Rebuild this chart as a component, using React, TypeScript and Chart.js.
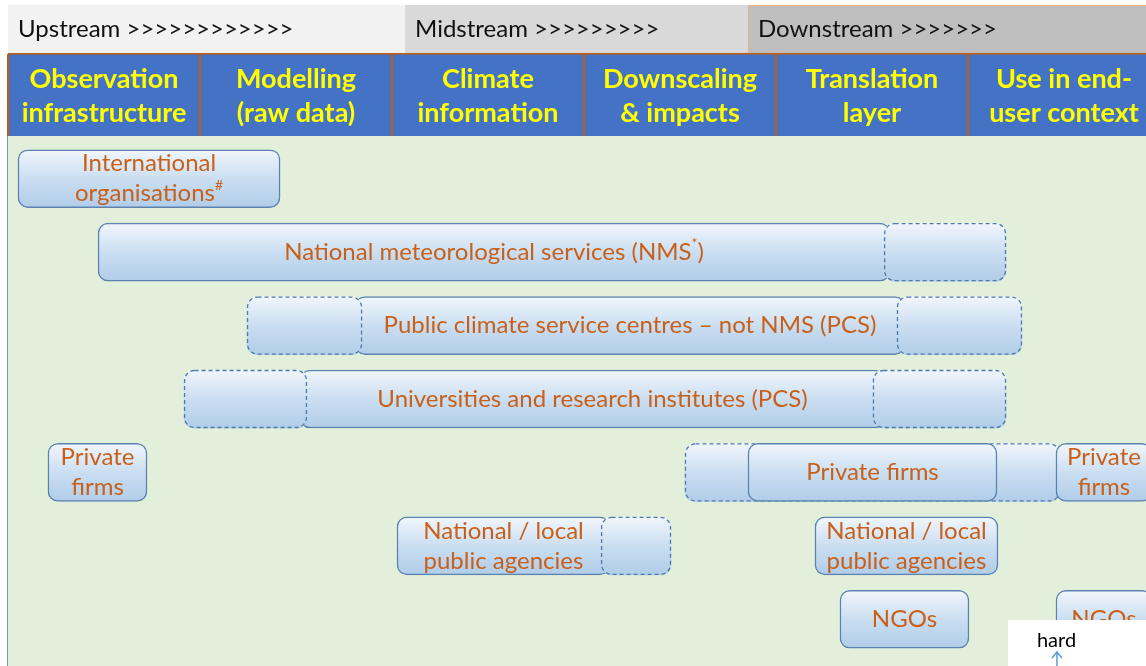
import React, { useEffect, useRef } from "react";
import { Chart, registerables } from "chart.js";

Chart.register(...registerables);

// ---------- DATA ----------
const rows = [
  "International organisations",
  "National meteorological services",
  "Public climate service centres",
  "Universities and research institutes",
  "Private firms",
  "National / local public agencies",
  "NGOs",
];

const stageLabels = [
  "Observation\ninfrastructure",
  "Modelling\n(raw data)",
  "Climate\ninformation",
  "Downscaling\n& impacts",
  "Translation\nlayer",
  "Use in end-\nuser context",
];

const streamLabels = ["Upstream >>>>>>>>>>>>", "Midstream >>>>>>>>>", "Downstream >>>>>>>"];
const streamStarts = [0, 2.068, 3.854];

type Range = [number, number] | null;

// value-chain position (1 unit = one stage column)
const mainBars: Range[] = [
  [0.052, 1.417],
  [0.469, 4.594],
  [1.807, 4.672],
  [1.521, 4.568],
  [3.854, 5.151],
  [2.026, 3.135],
  [4.333, 5.005],
];
const mainLabels = [
  "International\norganisations^#",
  "National meteorological services (NMS^*)",
  "Public climate service centres – not NMS (PCS)",
  "Universities and research institutes (PCS)",
  "Private firms",
  "National / local\npublic agencies",
  "NGOs",
];

const secondBars: Range[] = [null, null, null, null, [0.208, 0.724], [4.203, 5.156], [5.458, 5.958]];
const secondLabels = ["", "", "", "", "Private\nfirms", "National / local\npublic agencies", "NGOs"];

const thirdBars: Range[] = [null, null, null, null, [5.458, 5.958], null, null];
const thirdLabels = ["", "", "", "", "Private\nfirms", "", ""];

const extRightBars: Range[] = [null, [4.563, 5.198], [4.63, 5.281], [4.505, 5.198], null, [3.089, 3.453], null];
const extLeftBars: Range[] = [null, null, [1.245, 1.844], [0.917, 1.557], null, null, null];
const extBackBars: Range[] = [null, null, null, null, [3.526, 5.479], null, null];

const X_MAX = 5.927;
const BAR = 58;

// ---------- helpers ----------
const barFill = (c: any) => {
  const chart = c.chart;
  const yScale = chart.scales && chart.scales.y;
  if (!yScale || c.dataIndex == null) return "#c9ddf1";
  const yc = yScale.getPixelForValue(c.dataIndex);
  if (!Number.isFinite(yc)) return "#c9ddf1";
  const g = chart.ctx.createLinearGradient(0, yc - BAR / 2, 0, yc + BAR / 2);
  g.addColorStop(0, "#f1f6fc");
  g.addColorStop(0.55, "#c7dcf0");
  g.addColorStop(1, "#b1cde9");
  return g;
};

function drawRich(ctx: CanvasRenderingContext2D, text: string, cx: number, cy: number, size: number) {
  const parts: { t: string; sup: boolean }[] = [];
  let buf = "";
  for (let i = 0; i < text.length; i++) {
    if (text[i] === "^" && i + 1 < text.length) {
      if (buf) parts.push({ t: buf, sup: false });
      buf = "";
      parts.push({ t: text[i + 1], sup: true });
      i++;
    } else buf += text[i];
  }
  if (buf) parts.push({ t: buf, sup: false });
  const font = `${size}px Lato`;
  const supFont = `${Math.round(size * 0.6)}px Lato`;
  let total = 0;
  parts.forEach((p) => {
    ctx.font = p.sup ? supFont : font;
    total += ctx.measureText(p.t).width;
  });
  let x = cx - total / 2;
  ctx.textAlign = "left";
  ctx.textBaseline = "middle";
  parts.forEach((p) => {
    ctx.font = p.sup ? supFont : font;
    ctx.fillText(p.t, x, p.sup ? cy - size * 0.36 : cy);
    x += ctx.measureText(p.t).width;
  });
}

const diagramPlugin = {
  id: "diagram",
  beforeDraw(chart: any) {
    const { ctx, width, height } = chart;
    const xs = chart.scales.x;
    const px = (v: number) => xs.getPixelForValue(v);
    ctx.save();
    ctx.fillStyle = "#ffffff";
    ctx.fillRect(0, 0, width, height);

    // stream row
    const streamColors = ["#f2f2f2", "#d9d9d9", "#bfbfbf"];
    streamLabels.forEach((lab, i) => {
      const x0 = px(streamStarts[i]);
      const x1 = i < streamLabels.length - 1 ? px(streamStarts[i + 1]) : width;
      ctx.fillStyle = streamColors[i];
      ctx.fillRect(x0, 5, x1 - x0, 49);
      ctx.fillStyle = "#111111";
      ctx.font = "24px Lato";
      ctx.textAlign = "left";
      ctx.textBaseline = "middle";
      ctx.fillText(lab, x0 + 10, 29);
      if (i === 2) {
        ctx.strokeStyle = "#f4b183";
        ctx.lineWidth = 1;
        ctx.beginPath();
        ctx.moveTo(x0 + 0.5, 54);
        ctx.lineTo(x0 + 0.5, 5.5);
        ctx.lineTo(width, 5.5);
        ctx.stroke();
      }
    });

    // column headers
    const left = px(0);
    ctx.fillStyle = "#4472c4";
    ctx.fillRect(left, 54, width - left, 82);
    ctx.fillStyle = "#c55a11";
    ctx.fillRect(left, 53, width - left, 1.5);
    for (let i = 0; i <= stageLabels.length; i++) {
      ctx.fillRect(px(i) - 1, 54, 2, 82);
    }
    ctx.fillStyle = "#ffff00";
    ctx.font = "bold 27px Lato";
    ctx.textAlign = "center";
    ctx.textBaseline = "middle";
    stageLabels.forEach((lab, i) => {
      lab.split("\n").forEach((ln, j) => ctx.fillText(ln, px(i + 0.5), 79 + j * 34));
    });

    // green field
    ctx.fillStyle = "#e2efda";
    ctx.fillRect(left, 136, width - left, height - 136);
    ctx.strokeStyle = "#7a96b8";
    ctx.lineWidth = 1;
    ctx.beginPath();
    ctx.moveTo(left - 0.5, 136);
    ctx.lineTo(left - 0.5, height);
    ctx.stroke();
    ctx.restore();
  },
  afterDatasetDraw(chart: any, args: any) {
    const ds = chart.data.datasets[args.index];
    if (!ds.dashed) return;
    const ctx = chart.ctx;
    const a = chart.chartArea;
    ctx.save();
    ctx.beginPath();
    ctx.rect(a.left, a.top - 10, a.right - a.left, a.bottom - a.top + 20);
    ctx.clip();
    ctx.setLineDash([4, 3]);
    ctx.strokeStyle = "#4f79a8";
    ctx.lineWidth = 1.3;
    args.meta.data.forEach((el: any, i: number) => {
      if (ds.data[i] == null) return;
      const { x, base, y, height } = el.getProps(["x", "base", "y", "height"], true);
      if (![x, base, y, height].every(Number.isFinite)) return;
      const l = Math.min(x, base);
      const r = Math.max(x, base);
      ctx.beginPath();
      (ctx as any).roundRect(l + 0.5, y - height / 2 + 0.5, r - l - 1, height - 1, 10);
      ctx.stroke();
    });
    ctx.restore();
  },
  afterDatasetsDraw(chart: any) {
    const ctx = chart.ctx;
    const a = chart.chartArea;
    ctx.save();
    ctx.beginPath();
    ctx.rect(a.left, a.top - 10, a.right - a.left, a.bottom - a.top + 20);
    ctx.clip();
    ctx.fillStyle = "#c8601a";
    chart.data.datasets.forEach((ds: any, di: number) => {
      if (!ds.labels) return;
      const meta = chart.getDatasetMeta(di);
      meta.data.forEach((el: any, i: number) => {
        const txt = ds.labels[i];
        if (ds.data[i] == null || !txt) return;
        const { x, base, y } = el.getProps(["x", "base", "y"], true);
        const cx = (x + base) / 2;
        const lines = txt.split("\n");
        const lh = 30;
        lines.forEach((ln: string, j: number) => {
          drawRich(ctx, ln, cx, y + (j - (lines.length - 1) / 2) * lh, 24);
        });
      });
    });
    ctx.restore();
  },
  afterDraw(chart: any) {
    const { ctx, width, height } = chart;
    const px = (v: number) => chart.scales.x.getPixelForValue(v);
    const x0 = px(5.208);
    ctx.save();
    ctx.fillStyle = "#ffffff";
    ctx.fillRect(x0, height - 46, width - x0, 46);
    ctx.fillStyle = "#000000";
    ctx.font = "20px Lato";
    ctx.textAlign = "left";
    ctx.textBaseline = "middle";
    ctx.fillText("hard", x0 + 29, height - 25);
    const ax = x0 + 49;
    ctx.strokeStyle = "#5b9bd5";
    ctx.lineWidth = 1.5;
    ctx.beginPath();
    ctx.moveTo(ax, height - 13);
    ctx.lineTo(ax, height);
    ctx.moveTo(ax - 5, height - 8);
    ctx.lineTo(ax, height - 14);
    ctx.lineTo(ax + 5, height - 8);
    ctx.stroke();
    ctx.restore();
  },
};

export default function App() {
  const ref = useRef<HTMLCanvasElement | null>(null);
  useEffect(() => {
    document.body.style.margin = "0";
    if (!ref.current) return;
    const solid = (data: Range[], labels: string[]) => ({
      data,
      labels,
      backgroundColor: barFill,
      borderColor: "#5d82b0",
      borderWidth: 1.5,
      order: 3,
    });
    const dashed = (data: Range[], order: number) => ({
      data,
      dashed: true,
      backgroundColor: barFill,
      borderWidth: 0,
      order,
    });
    const chart = new Chart(ref.current, {
      type: "bar",
      data: {
        labels: rows,
        datasets: [
          dashed(extRightBars, 1),
          dashed(extLeftBars, 1),
          solid(mainBars, mainLabels),
          solid(secondBars, secondLabels),
          solid(thirdBars, thirdLabels),
          dashed(extBackBars, 5),
        ] as any,
      },
      options: {
        indexAxis: "y",
        responsive: true,
        maintainAspectRatio: false,
        animation: false,
        layout: { padding: { top: 142, bottom: 10, left: 8, right: 0 } },
        scales: {
          x: { type: "linear", min: 0, max: X_MAX, display: false },
          y: { type: "category", display: false, offset: true },
        },
        plugins: { legend: { display: false }, tooltip: { enabled: false } },
        datasets: {
          bar: { grouped: false, barThickness: BAR, borderRadius: 10, borderSkipped: false },
        },
      } as any,
      plugins: [diagramPlugin],
    });
    return () => chart.destroy();
  }, []);
  return (
    <div style={{ width: 1146, height: 666, position: "relative" }}>
      <canvas ref={ref} />
    </div>
  );
}
